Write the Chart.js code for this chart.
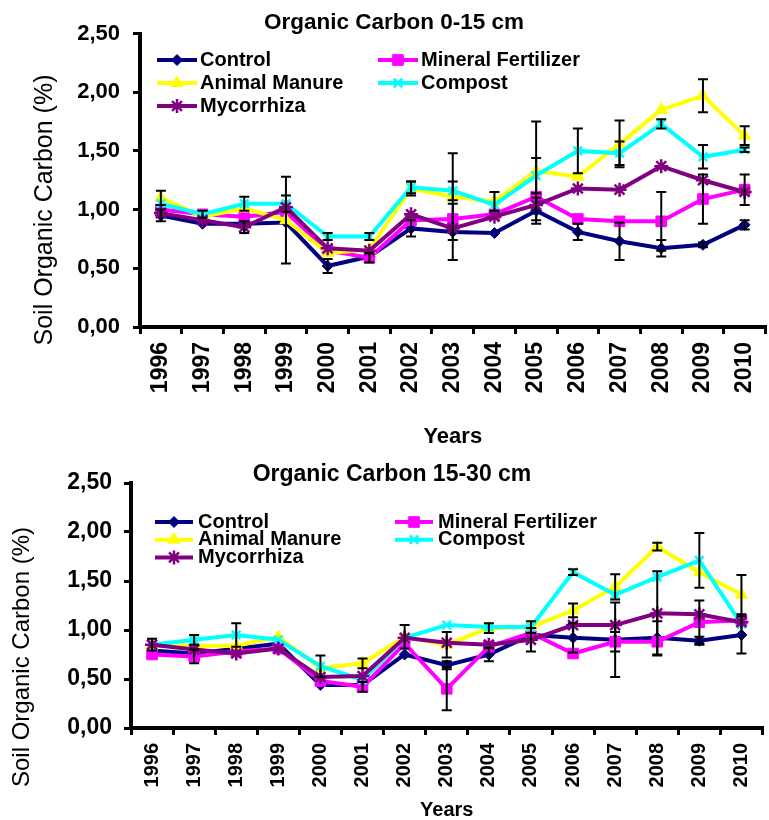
<!DOCTYPE html>
<html>
<head>
<meta charset="utf-8">
<script src="https://cdn.jsdelivr.net/npm/chart.js@4.4.1/dist/chart.umd.min.js"></script>
<style>
  html, body { margin: 0; padding: 0; background: #fff; overflow: hidden; }
  #topChart { position: absolute; left: 0; top: 0; }
  #bottomChart { position: absolute; left: 0; top: 450px; }
</style>
</head>
<body>
<canvas id="topChart" width="775" height="450" style="width:775px;height:450px"></canvas>
<canvas id="bottomChart" width="772" height="370" style="width:772px;height:370px"></canvas>
<script>
// categories
const years = ['1996', '1997', '1998', '1999', '2000', '2001', '2002', '2003',
  '2004', '2005', '2006', '2007', '2008', '2009', '2010'];

// series
const seriesNames = ['Control', 'Mineral Fertilizer', 'Animal Manure', 'Compost', 'Mycorrhiza'];
const seriesColors = ['#000080', '#FF00FF', '#FFFF00', '#00FFFF', '#800080'];
const seriesMarkers = ['rectRot', 'rect', 'triangle', 'crossRot', 'star'];
const markerSizes = [5.5, 7.5, 7, 6, 7];

// Organic Carbon 0-15 cm (%)
const control0to15 = [0.95, 0.88, 0.88, 0.89, 0.52, 0.60, 0.84, 0.81, 0.80, 0.99, 0.81, 0.73, 0.67, 0.70, 0.87];
const mineral0to15 = [1.00, 0.96, 0.94, 0.98, 0.65, 0.59, 0.91, 0.92, 0.96, 1.11, 0.92, 0.90, 0.90, 1.09, 1.17];
const animal0to15 = [1.10, 0.94, 1.01, 0.91, 0.63, 0.66, 1.18, 1.11, 1.07, 1.33, 1.28, 1.56, 1.85, 1.97, 1.63];
const compost0to15 = [1.05, 0.96, 1.05, 1.05, 0.77, 0.77, 1.19, 1.16, 1.04, 1.29, 1.50, 1.48, 1.73, 1.45, 1.51];
const myco0to15 = [0.97, 0.91, 0.85, 1.02, 0.67, 0.65, 0.96, 0.84, 0.94, 1.04, 1.18, 1.17, 1.37, 1.25, 1.15];

// error bars (half widths) 0-15 cm
const errControl0to15 = [0.05, 0, 0, 0, 0.06, 0, 0.07, 0.24, 0, 0.11, 0.07, 0.16, 0.07, 0.02, 0.04];
const errMineral0to15 = [0, 0.03, 0, 0, 0, 0.04, 0, 0, 0, 0, 0, 0, 0.25, 0.21, 0.13];
const errAnimal0to15 = [0.06, 0, 0, 0.37, 0, 0, 0.06, 0.37, 0.08, 0.42, 0, 0.20, 0, 0.14, 0.08];
const errCompost0to15 = [0, 0, 0.06, 0.07, 0.03, 0.03, 0.05, 0.08, 0, 0.15, 0.19, 0.10, 0.04, 0.10, 0.02];
const errMyco0to15 = [0, 0, 0.05, 0, 0, 0, 0, 0, 0, 0, 0, 0, 0, 0, 0];

// Organic Carbon 15-30 cm (%)
const control15to30 = [0.79, 0.76, 0.81, 0.86, 0.44, 0.44, 0.75, 0.64, 0.75, 0.95, 0.92, 0.90, 0.92, 0.89, 0.95];
const mineral15to30 = [0.75, 0.73, 0.78, 0.81, 0.48, 0.42, 0.86, 0.40, 0.83, 0.97, 0.76, 0.88, 0.88, 1.08, 1.10];
const animal15to30 = [0.84, 0.84, 0.84, 0.93, 0.61, 0.66, 0.93, 0.85, 1.02, 1.03, 1.20, 1.44, 1.85, 1.59, 1.36];
const compost15to30 = [0.85, 0.90, 0.95, 0.90, 0.63, 0.49, 0.92, 1.05, 1.03, 1.03, 1.59, 1.36, 1.54, 1.71, 1.06];
const myco15to30 = [0.85, 0.80, 0.76, 0.81, 0.52, 0.53, 0.92, 0.87, 0.85, 0.90, 1.05, 1.05, 1.17, 1.16, 1.08];

// error bars (half widths) 15-30 cm
const errControl15to30 = [0, 0, 0, 0, 0, 0, 0, 0.04, 0.07, 0, 0.15, 0.38, 0.17, 0.04, 0.19];
const errMineral15to30 = [0, 0.07, 0, 0, 0, 0.05, 0, 0.22, 0, 0, 0, 0.10, 0, 0.22, 0];
const errAnimal15to30 = [0, 0, 0, 0, 0, 0.05, 0.12, 0.13, 0.05, 0, 0.07, 0.13, 0.04, 0, 0.20];
const errCompost15to30 = [0, 0.05, 0.12, 0, 0.11, 0, 0, 0, 0, 0.06, 0.03, 0, 0, 0.28, 0];
const errMyco15to30 = [0.06, 0, 0, 0, 0, 0, 0, 0, 0, 0.12, 0, 0, 0.43, 0, 0];

const FONT = "'Liberation Sans', Arial, sans-serif";
Chart.defaults.font.family = FONT;
Chart.defaults.color = '#000';

// legend drawn inside the plot, two columns like the original
const insideLegend = {
  id: 'insideLegend',
  afterDraw(chart, args, opts) {
    const ctx = chart.ctx;
    ctx.save();
    ctx.font = 'bold ' + opts.fontSize + 'px ' + FONT;
    ctx.textBaseline = 'middle';
    chart.data.datasets.forEach((ds, i) => {
      const col = i % 2;
      const row = Math.floor(i / 2);
      const x0 = opts.lineStart[col];
      const x1 = x0 + opts.lineLength;
      const y = opts.top + row * opts.rowGap;
      ctx.strokeStyle = ds.borderColor;
      ctx.lineWidth = ds.borderWidth;
      ctx.beginPath();
      ctx.moveTo(x0, y);
      ctx.lineTo(x1, y);
      ctx.stroke();
      ctx.fillStyle = ds.pointBackgroundColor;
      ctx.strokeStyle = ds.pointBorderColor;
      ctx.lineWidth = ds.pointBorderWidth;
      Chart.helpers.drawPoint(ctx, {
        pointStyle: ds.pointStyle, radius: ds.pointRadius, rotation: 0, borderWidth: ds.pointBorderWidth
      }, (x0 + x1) / 2, y);
      ctx.fillStyle = '#000';
      ctx.fillText(ds.label, x1 + opts.textGap, y);
    });
    ctx.restore();
  }
};

// black error bars with caps
const errorBarPlugin = {
  id: 'errorBars',
  afterDatasetsDraw(chart, args, opts) {
    const ctx = chart.ctx;
    const xs = chart.scales.x;
    const ys = chart.scales.y;
    ctx.save();
    ctx.strokeStyle = '#000';
    ctx.lineWidth = opts.lineWidth;
    chart.data.datasets.forEach(ds => {
      ds.errorBars.forEach((e, i) => {
        if (!e) return;
        const x = xs.getPixelForValue(i);
        const yHi = ys.getPixelForValue(ds.data[i] + e);
        const yLo = ys.getPixelForValue(ds.data[i] - e);
        ctx.beginPath();
        ctx.moveTo(x, yHi);
        ctx.lineTo(x, yLo);
        ctx.moveTo(x - opts.cap, yHi);
        ctx.lineTo(x + opts.cap, yHi);
        ctx.moveTo(x - opts.cap, yLo);
        ctx.lineTo(x + opts.cap, yLo);
        ctx.stroke();
      });
    });
    ctx.restore();
  }
};

// vertical y axis title, placed like the original (not centred on the axis)
const yTitlePlugin = {
  id: 'yTitle',
  afterDraw(chart, args, o) {
    const ctx = chart.ctx;
    ctx.save();
    ctx.translate(o.x, o.y);
    ctx.rotate(-Math.PI / 2);
    ctx.font = o.size + 'px ' + FONT;
    ctx.fillStyle = '#000';
    ctx.textAlign = 'center';
    ctx.textBaseline = 'middle';
    ctx.fillText(o.text, 0, 0);
    ctx.restore();
  }
};

function buildDatasets(values, errors) {
  return values.map((data, i) => {
    const open = seriesMarkers[i] === 'crossRot' || seriesMarkers[i] === 'star';
    return {
      label: seriesNames[i],
      data: data,
      errorBars: errors[i],
      borderColor: seriesColors[i],
      backgroundColor: seriesColors[i],
      borderWidth: 4,
      pointStyle: seriesMarkers[i],
      pointRadius: markerSizes[i],
      pointHoverRadius: markerSizes[i],
      pointBackgroundColor: seriesColors[i],
      pointBorderColor: seriesColors[i],
      pointBorderWidth: open ? 2.5 : 1,
      tension: 0,
      order: values.length - i
    };
  });
}

function makeChart(canvasId, values, errors, s) {
  new Chart(document.getElementById(canvasId), {
    type: 'line',
    data: { labels: years, datasets: buildDatasets(values, errors) },
    options: {
      responsive: false,
      animation: false,
      events: [],
      layout: { padding: { left: s.padLeft, right: 0, top: 0, bottom: 0 } },
      plugins: {
        legend: { display: false },
        tooltip: { enabled: false },
        title: {
          display: true,
          text: s.title,
          color: '#000',
          font: { size: s.titleSize, weight: 'bold', lineHeight: 1 },
          padding: { top: s.titleTop, bottom: s.titleBottom }
        },
        insideLegend: s.legend,
        errorBars: { lineWidth: 2, cap: 5 },
        yTitle: s.yTitle
      },
      scales: {
        x: {
          offset: true,
          grid: { display: true, offset: true, drawOnChartArea: false, drawTicks: true, tickLength: 7, color: '#000', lineWidth: 3 },
          border: { display: true, color: '#000', width: 4 },
          ticks: {
            color: '#000', autoSkip: false, minRotation: 90, maxRotation: 90, padding: s.xTickPad,
            font: { size: s.xTickSize, weight: 'bold' }
          },
          title: {
            display: true, text: 'Years', color: '#000',
            font: { size: s.xTitleSize, weight: 'bold', lineHeight: s.xTitleLH },
            padding: { top: 0, bottom: 0 }
          },
          afterFit: scale => {
            scale.height = s.xHeight;
            scale.paddingLeft = 0;
            scale.paddingRight = 0;
          }
        },
        y: {
          min: 0,
          max: 2.5,
          grid: { display: true, drawOnChartArea: false, drawTicks: true, tickLength: 7, color: '#000', lineWidth: 3 },
          border: { display: true, color: '#000', width: 4 },
          ticks: {
            stepSize: 0.5, color: '#000', padding: s.yTickPad,
            font: { size: s.yTickSize, weight: 'bold' },
            callback: v => v.toFixed(2).replace('.', ',')
          },
          title: { display: false },
          afterFit: scale => { scale.width = s.yWidth; }
        }
      }
    },
    plugins: [insideLegend, errorBarPlugin, yTitlePlugin]
  });
}

makeChart('topChart',
  [control0to15, mineral0to15, animal0to15, compost0to15, myco0to15],
  [errControl0to15, errMineral0to15, errAnimal0to15, errCompost0to15, errMyco0to15],
  {
    padLeft: 13, title: 'Organic Carbon 0-15 cm', titleSize: 22.5, titleTop: 11.75, titleBottom: -0.75,
    yWidth: 127, yTickSize: 22, yTickPad: 13,
    xHeight: 123, xTickSize: 23, xTickPad: 8, xTitleSize: 22, xTitleLH: 1.2,
    legend: { fontSize: 20, top: 60, rowGap: 23, lineStart: [157, 378], lineLength: 40, textGap: 3 },
    yTitle: { text: 'Soil Organic Carbon (%)', x: 45, y: 210, size: 25 }
  });

makeChart('bottomChart',
  [control15to30, mineral15to30, animal15to30, compost15to30, myco15to30],
  [errControl15to30, errMineral15to30, errAnimal15to30, errCompost15to30, errMyco15to30],
  {
    padLeft: 12, title: 'Organic Carbon 15-30 cm', titleSize: 23, titleTop: 13.5, titleBottom: -3.5,
    yWidth: 119, yTickSize: 23, yTickPad: 12,
    xHeight: 92, xTickSize: 20, xTickPad: 8, xTitleSize: 20, xTitleLH: 1,
    legend: { fontSize: 20, top: 72, rowGap: 17.7, lineStart: [155, 395], lineLength: 38, textGap: 5 },
    yTitle: { text: 'Soil Organic Carbon (%)', x: 22, y: 207, size: 24 }
  });
</script>
</body>
</html>
